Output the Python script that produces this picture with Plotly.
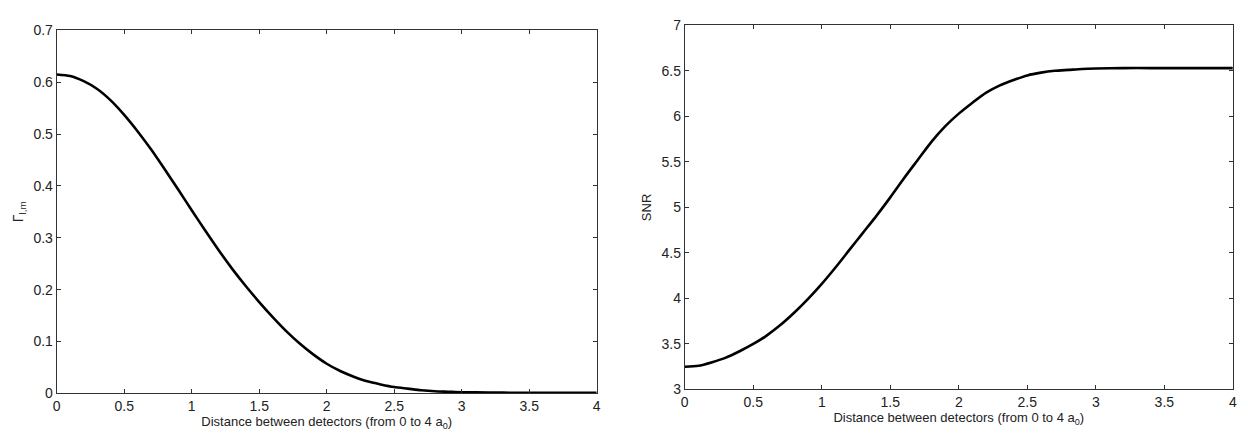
import plotly.graph_objects as go
from plotly.subplots import make_subplots

# Data (distance in units of a0)
distance = [0.0, 0.1, 0.2, 0.3, 0.4, 0.5, 0.6, 0.7, 0.8, 0.9,
            1.0, 1.1, 1.2, 1.3, 1.4, 1.5, 1.6, 1.7, 1.8, 1.9,
            2.0, 2.1, 2.2, 2.3, 2.4, 2.5, 2.6, 2.7, 2.8, 2.9,
            3.0, 3.2, 3.4, 3.6, 3.8, 4.0]
gamma_lm = [0.615, 0.612, 0.602, 0.587, 0.565, 0.537, 0.505, 0.470, 0.432, 0.393,
            0.353, 0.314, 0.276, 0.240, 0.207, 0.176, 0.147, 0.120, 0.096, 0.075,
            0.057, 0.043, 0.032, 0.023, 0.017, 0.012, 0.009, 0.006, 0.004, 0.003,
            0.002, 0.0015, 0.001, 0.001, 0.001, 0.001]
snr = [3.25, 3.26, 3.30, 3.35, 3.42, 3.50, 3.595, 3.71, 3.845, 3.995,
       4.16, 4.34, 4.53, 4.72, 4.91, 5.11, 5.32, 5.52, 5.72, 5.89,
       6.03, 6.15, 6.26, 6.34, 6.40, 6.45, 6.48, 6.50, 6.51, 6.52,
       6.525, 6.53, 6.53, 6.53, 6.53, 6.53]

x_ticks = [0, 0.5, 1, 1.5, 2, 2.5, 3, 3.5, 4]
left_y_ticks = [0, 0.1, 0.2, 0.3, 0.4, 0.5, 0.6, 0.7]
right_y_ticks = [3, 3.5, 4, 4.5, 5, 5.5, 6, 6.5, 7]

x_title = "Distance between detectors (from 0 to 4 a<sub>0</sub>)"

fig = make_subplots(rows=1, cols=2)
line_style = dict(color="black", width=2.6, shape="spline", smoothing=0.7)
fig.add_trace(go.Scatter(x=distance, y=gamma_lm, mode="lines", line=line_style,
                         showlegend=False), row=1, col=1)
fig.add_trace(go.Scatter(x=distance, y=snr, mode="lines", line=line_style,
                         showlegend=False), row=1, col=2)

font = dict(family="Liberation Sans, Arial, sans-serif", size=14, color="#222")
axis_common = dict(showline=True, linecolor="#333", linewidth=1, mirror="ticks",
                   ticks="inside", ticklen=4, tickcolor="#333", showgrid=False,
                   zeroline=False, tickfont=font)

fig.update_layout(
    width=1248, height=438,
    margin=dict(l=0, r=0, t=0, b=0),
    paper_bgcolor="white", plot_bgcolor="white",
    font=font,
    xaxis=dict(domain=[0.0425, 0.478], range=[0, 4], tickvals=x_ticks,
               title=dict(text=x_title, font=dict(size=13), standoff=2), **axis_common),
    yaxis=dict(domain=[0.087, 0.947], range=[0, 0.7], tickvals=left_y_ticks,
               title=dict(text="Γ<sub>l,m</sub>", font=dict(size=14), standoff=6), **axis_common),
    xaxis2=dict(domain=[0.549, 0.991], range=[0, 4], tickvals=x_ticks,
                title=dict(text=x_title, font=dict(size=13), standoff=2), **axis_common),
    yaxis2=dict(domain=[0.096, 0.959], range=[3, 7], tickvals=right_y_ticks,
                title=dict(text="SNR", font=dict(size=13), standoff=6), **axis_common),
)

fig.write_html("out.html")
